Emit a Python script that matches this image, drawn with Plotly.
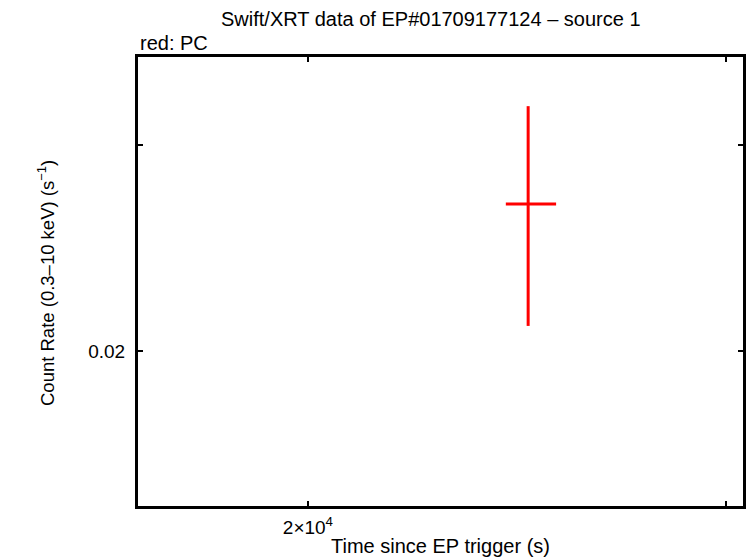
import plotly.graph_objects as go

# Data
time_s = [24760]
time_err_minus = [530]
time_err_plus = [680]
rate = [0.02671]
rate_err_plus = [0.00567]
rate_err_minus = [0.00570]

x_tickvals = [20000]
x_ticktext = ["2×10<sup>4</sup>"]
x_minor_ticks = [30000]
y_tickvals = [0.02]
y_ticktext = ["0.02"]
y_minor_ticks = [0.03]

FONT = "Liberation Sans, Arial, sans-serif"

fig = go.Figure()
fig.add_trace(go.Scatter(
    x=time_s, y=rate, mode="markers",
    marker=dict(size=1, color="red", opacity=0),
    error_x=dict(type="data", symmetric=False, array=time_err_plus,
                 arrayminus=time_err_minus, color="red", thickness=3, width=0),
    error_y=dict(type="data", symmetric=False, array=rate_err_plus,
                 arrayminus=rate_err_minus, color="red", thickness=3, width=0),
    showlegend=False,
))

axis_common = dict(
    showline=True, linecolor="black", linewidth=3, mirror="allticks",
    ticks="inside", ticklen=5, tickwidth=2, tickcolor="black",
    showgrid=False, zeroline=False, automargin=False,
    tickfont=dict(family=FONT, size=19, color="black"),
)

fig.update_xaxes(type="log", range=[4.2295, 4.4842], tickvals=x_tickvals, ticktext=x_ticktext,
                 minor=dict(tickvals=x_minor_ticks, ticks="inside", ticklen=5, tickwidth=2, tickcolor="black"),
                 ticklabelstandoff=2,
                 **axis_common)
fig.update_yaxes(type="log", range=[-1.8315, -1.4477], tickvals=y_tickvals, ticktext=y_ticktext,
                 minor=dict(tickvals=y_minor_ticks, ticks="inside", ticklen=5, tickwidth=2, tickcolor="black"),
                 ticklabelstandoff=6,
                 **axis_common)

L, R, T, B = 138, 3, 57, 52
W, H = 746, 558
pw, ph = W - L - R, H - T - B

def px(x):
    return (x - L) / pw

def py(y):
    return (H - B - y) / ph

fig.update_layout(
    width=W, height=H,
    margin=dict(l=L, r=R, t=T, b=B),
    paper_bgcolor="white", plot_bgcolor="white",
    font=dict(family=FONT, color="black"),
    annotations=[
        dict(text="Swift/XRT data of EP#01709177124 – source 1", x=px(431), y=py(19),
             xref="paper", yref="paper", showarrow=False, yanchor="middle",
             font=dict(size=20)),
        dict(text="red: PC", x=px(138), y=py(43), xref="paper", yref="paper",
             xanchor="left", yanchor="middle", showarrow=False,
             font=dict(size=20)),
        dict(text="Time since EP trigger (s)", x=px(440), y=py(546), xref="paper", yref="paper",
             xanchor="center", yanchor="middle", showarrow=False,
             font=dict(size=20)),
        dict(text="Count Rate (0.3–10 keV) (s<sup>−1</sup>)", x=px(46), y=py(283), xref="paper", yref="paper",
             xanchor="center", yanchor="middle", showarrow=False, textangle=-90,
             font=dict(size=18.5)),
    ],
)

fig.write_html("out.html", config={"displayModeBar": False},
               post_script="document.body.style.margin='0';document.body.style.overflow='hidden';")
